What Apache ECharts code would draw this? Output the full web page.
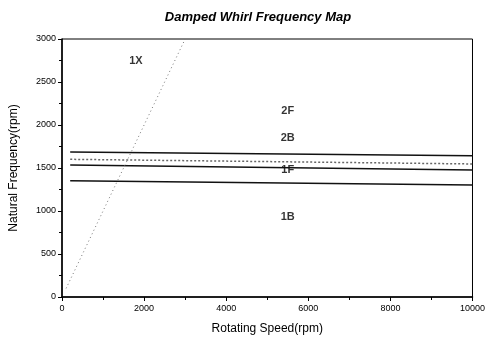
<!DOCTYPE html>
<html lang="en">
<head>
    <meta charset="UTF-8"/>
    <title>Damped Whirl Frequency Map</title>
    <script src="https://cdn.jsdelivr.net/npm/echarts@6/dist/echarts.min.js"></script>
    <style>
        html, body { margin: 0; padding: 0; background: #fff; }
    </style>
</head>
<body>
<div id="main" style="width: 488px;height:343px;"></div>

<script type="text/javascript">
    // rotating speed (rpm) where each mode line is sampled
    var speeds = [200, 10000];
    // natural frequencies (rpm) of the four modes
    var mode2F = [1686, 1643];
    var mode2B = [1601, 1547];
    var mode1F = [1535, 1477];
    var mode1B = [1352, 1302];
    // synchronous 1X line
    var speed1X = [100, 3000];
    var freq1X = [100, 3000];
    // text labels: name, speed, frequency
    var labelNames = ['1X', '2F', '2B', '1F', '1B'];
    var labelSpeeds = [1800, 5500, 5500, 5500, 5500];
    var labelFreqs = [2750, 2160, 1850, 1480, 930];

    function pairs(xs, ys) {
        return xs.map(function (x, i) { return [x, ys[i]]; });
    }

    // plain numbers, no thousands separator
    function plain(v) { return String(v); }

    var myChart = echarts.init(document.getElementById('main'));
    var font = 'Liberation Sans, Arial, sans-serif';

    function modeLine(name, vals, type, color) {
        return {
            name: name,
            type: 'line',
            data: pairs(speeds, vals),
            symbol: 'none',
            silent: true,
            lineStyle: { color: color, width: 1.5, type: type }
        };
    }

    var option = {
        animation: false,
        title: {
            text: 'Damped Whirl Frequency Map',
            left: 253,
            textAlign: 'center',
            top: 6,
            textStyle: { fontFamily: font, fontSize: 13, fontWeight: 'bold', fontStyle: 'italic', color: '#000' }
        },
        grid: {
            left: 62, right: 15, top: 39, bottom: 46,
            show: true, borderColor: '#000', borderWidth: 1
        },
        xAxis: {
            type: 'value',
            min: 0, max: 10000, interval: 2000,
            name: 'Rotating Speed(rpm)',
            nameLocation: 'middle',
            nameGap: 26,
            nameTextStyle: { fontFamily: font, fontSize: 12, color: '#000' },
            axisLine: { lineStyle: { color: '#000', width: 1.5 } },
            axisTick: { inside: false, length: 4, lineStyle: { color: '#000' } },
            minorTick: { show: true, splitNumber: 2, length: 3, lineStyle: { color: '#000' } },
            axisLabel: { fontFamily: font, fontSize: 9, color: '#000', margin: 7, formatter: plain },
            splitLine: { show: false }
        },
        yAxis: {
            type: 'value',
            min: 0, max: 3000, interval: 500,
            name: 'Natural Frequency(rpm)',
            nameLocation: 'middle',
            nameGap: 42,
            nameTextStyle: { fontFamily: font, fontSize: 12, color: '#000' },
            axisLine: { show: true, lineStyle: { color: '#000', width: 1.5 } },
            axisTick: { show: true, inside: false, length: 4, lineStyle: { color: '#000' } },
            minorTick: { show: true, splitNumber: 2, length: 3, lineStyle: { color: '#000' } },
            axisLabel: { fontFamily: font, fontSize: 9, color: '#000', margin: 6, formatter: plain },
            splitLine: { show: false }
        },
        series: [
            modeLine('2F', mode2F, 'solid', '#111'),
            modeLine('2B', mode2B, [2, 2], '#666'),
            modeLine('1F', mode1F, 'solid', '#111'),
            modeLine('1B', mode1B, 'solid', '#111'),
            {
                name: '1X',
                type: 'line',
                data: pairs(speed1X, freq1X),
                symbol: 'none',
                silent: true,
                lineStyle: { color: '#777', width: 1, type: [1, 3] }
            },
            {
                name: 'labels',
                type: 'scatter',
                symbolSize: 0,
                silent: true,
                data: labelNames.map(function (n, i) {
                    return { name: n, value: [labelSpeeds[i], labelFreqs[i]] };
                }),
                label: {
                    show: true,
                    position: 'inside',
                    formatter: '{b}',
                    fontFamily: font,
                    fontSize: 11,
                    fontWeight: 'bold',
                    color: '#000'
                }
            }
        ]
    };
    myChart.setOption(option);
</script>
</body>
</html>
